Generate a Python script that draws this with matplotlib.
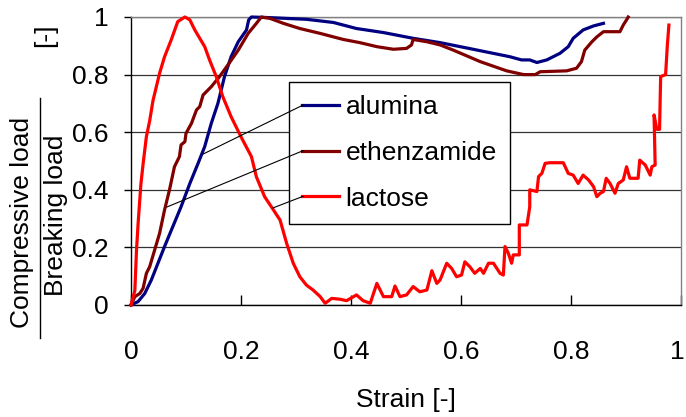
import numpy as np
import matplotlib
matplotlib.use('Agg')
import matplotlib.pyplot as plt
import matplotlib.transforms as mtransforms
from matplotlib.lines import Line2D

plt.rcParams['font.family'] = ['Liberation Sans', 'DejaVu Sans']

# ── 데이터 ─────────────────────────────────────────
alumina_x = [0, 0.013, 0.025, 0.037, 0.049, 0.061, 0.076, 0.091, 0.107, 0.122,
             0.134, 0.146, 0.158, 0.17, 0.182, 0.195, 0.21, 0.214, 0.219, 0.25,
             0.319, 0.368, 0.41, 0.459, 0.513, 0.562, 0.622, 0.689, 0.71, 0.725,
             0.738, 0.756, 0.78, 0.795, 0.804, 0.822, 0.841, 0.859]
alumina_y = [0, 0.012, 0.04, 0.087, 0.145, 0.203, 0.272, 0.341, 0.422, 0.492,
             0.55, 0.631, 0.7, 0.793, 0.862, 0.914, 0.955, 0.99, 1.0, 0.998,
             0.992, 0.981, 0.96, 0.946, 0.926, 0.911, 0.888, 0.862, 0.851, 0.851,
             0.842, 0.851, 0.874, 0.897, 0.926, 0.955, 0.969, 0.978]

ethen_x = [0, 0.007, 0.016, 0.022, 0.028, 0.034, 0.043, 0.052, 0.061, 0.07,
           0.079, 0.088, 0.091, 0.098, 0.1, 0.11, 0.119, 0.125, 0.131, 0.146,
           0.161, 0.176, 0.195, 0.213, 0.228, 0.237, 0.253, 0.277, 0.307, 0.344,
           0.386, 0.416, 0.447, 0.477, 0.501, 0.51, 0.513, 0.538, 0.562, 0.586,
           0.635, 0.683, 0.714, 0.735, 0.744, 0.792, 0.81, 0.819, 0.825, 0.838,
           0.847, 0.859, 0.889, 0.895, 0.901, 0.904]
ethen_y = [0, 0.029, 0.04, 0.058, 0.11, 0.133, 0.191, 0.249, 0.33, 0.4,
           0.48, 0.515, 0.556, 0.567, 0.596, 0.631, 0.677, 0.689, 0.729, 0.758,
           0.793, 0.833, 0.885, 0.943, 0.978, 1.0, 0.995, 0.978, 0.96, 0.943,
           0.922, 0.911, 0.897, 0.888, 0.891, 0.903, 0.922, 0.914, 0.903, 0.885,
           0.845, 0.813, 0.8, 0.8, 0.81, 0.813, 0.822, 0.845, 0.885, 0.914,
           0.931, 0.949, 0.949, 0.972, 0.99, 1.0]

lactose_x = [0, 0.007, 0.01, 0.013, 0.018, 0.022, 0.028, 0.034, 0.04, 0.052,
             0.061, 0.073, 0.085, 0.098, 0.107, 0.116, 0.134, 0.143, 0.155, 0.167,
             0.182, 0.2, 0.219, 0.228, 0.243, 0.259, 0.271, 0.283, 0.295, 0.307,
             0.319, 0.331, 0.344, 0.353, 0.365, 0.38, 0.392, 0.41, 0.422, 0.435,
             0.447, 0.459, 0.474, 0.48, 0.489, 0.501, 0.513, 0.525, 0.538, 0.547,
             0.556, 0.562, 0.574, 0.583, 0.592, 0.601, 0.607, 0.616, 0.625, 0.635,
             0.641, 0.65, 0.659, 0.671, 0.677, 0.68, 0.686, 0.692, 0.695, 0.706,
             0.706, 0.72, 0.725, 0.725, 0.738, 0.741, 0.747, 0.753, 0.762, 0.786,
             0.795, 0.804, 0.813, 0.822, 0.832, 0.841, 0.847, 0.853, 0.859, 0.864,
             0.871, 0.88, 0.886, 0.895, 0.901, 0.907, 0.922, 0.925, 0.935, 0.944,
             0.947, 0.953, 0.951, 0.956, 0.961, 0.963, 0.972, 0.975, 0.978]
lactose_y = [0, 0.05, 0.19, 0.285, 0.42, 0.49, 0.585, 0.64, 0.71, 0.805,
             0.862, 0.92, 0.984, 1.0, 0.99, 0.955, 0.897, 0.85, 0.793, 0.723,
             0.654, 0.584, 0.515, 0.445, 0.376, 0.33, 0.295, 0.214, 0.145, 0.098,
             0.069, 0.052, 0.029, 0.006, 0.023, 0.02, 0.015, 0.035, 0.015, 0.006,
             0.075, 0.029, 0.029, 0.066, 0.029, 0.035, 0.064, 0.046, 0.052, 0.119,
             0.075, 0.087, 0.145, 0.127, 0.098, 0.104, 0.15, 0.133, 0.11, 0.127,
             0.11, 0.145, 0.145, 0.11, 0.104, 0.203, 0.18, 0.145, 0.174, 0.174,
             0.278, 0.278, 0.341, 0.4, 0.394, 0.446, 0.457, 0.492, 0.494, 0.494,
             0.457, 0.451, 0.422, 0.451, 0.434, 0.411, 0.376, 0.388, 0.394, 0.44,
             0.422, 0.388, 0.422, 0.434, 0.48, 0.44, 0.44, 0.503, 0.486, 0.451,
             0.48, 0.486, 0.66, 0.61, 0.61, 0.793, 0.8, 0.897, 0.972]

names  = ["alumina", "ethenzamide", "lactose"]
colors = ["#000080", "#800000", "#FF0000"]
# 범례 연결선이 닿는 곡선 위의 점
anchors = [(0.131, 0.524), (0.065, 0.34), (0.258, 0.337)]

ticks = [0, 0.2, 0.4, 0.6, 0.8, 1]
tick_labels = ["0", "0.2", "0.4", "0.6", "0.8", "1"]

# ── 그리기 ────────────────────────────────────────────────
FS = 19
fig = plt.figure(figsize=(6.86, 4.17), dpi=100)
ax = fig.add_axes([131/686, 1 - 305/417, 550/686, 288/417])

series = [(alumina_x, alumina_y), (ethen_x, ethen_y), (lactose_x, lactose_y)]
for (xs, ys), name, col in zip(series, names, colors):
    ax.plot(xs, ys, color=col, lw=2.3, label=name, clip_on=False, zorder=3)

ax.set_xlim(0, 1)
ax.set_ylim(0, 1)
ax.set_xticks(ticks)
ax.set_xticklabels(tick_labels, fontsize=FS)
ax.set_yticks(ticks)
ax.set_yticklabels(tick_labels, fontsize=FS)
ax.tick_params(axis='x', direction='in', length=7, width=1, pad=25)
ax.tick_params(axis='y', direction='out', length=5, width=1, pad=11)
ax.yaxis.grid(True, color='#333333', lw=0.9)
ax.set_axisbelow(True)
for s in ['left', 'bottom']:
    ax.spines[s].set_color('black')
    ax.spines[s].set_linewidth(1)
for s in ['top', 'right']:
    ax.spines[s].set_color('#808080')
    ax.spines[s].set_linewidth(1)

# 오른쪽 끝 "1" 라벨이 잘리지 않도록 살짝 왼쪽으로
last = ax.get_xticklabels()[-1]
last.set_transform(last.get_transform() +
                   mtransforms.ScaledTranslation(-3/72, 0, fig.dpi_scale_trans))

ax.set_xlabel("Strain [-]", fontsize=FS)
ax.xaxis.set_label_coords(0.5, -0.288)

# 분수 형태의 y축 라벨
fig.text(22/686, 1 - 222/417, "Compressive load", rotation=90,
         fontsize=FS, ha='center', va='center')
fig.text(56/686, 1 - 215/417, "Breaking load", rotation=90,
         fontsize=FS, ha='center', va='center')
fig.add_artist(Line2D([40/686, 40/686], [1 - 98/417, 1 - 338/417],
                      color='black', lw=1))
fig.text(45/686, 1 - 35/417, "[-]", rotation=90,
         fontsize=FS, ha='center', va='center')

leg = ax.legend(loc='upper left', bbox_to_anchor=(0.287, 0.774),
                borderaxespad=0, fontsize=FS, frameon=True, fancybox=False,
                edgecolor='black', framealpha=1, handlelength=1.4,
                handletextpad=0.25, labelspacing=0.82, borderpad=0.5)
leg.get_frame().set_linewidth(1)

# 범례 → 곡선 연결선
fig.canvas.draw()
renderer = fig.canvas.get_renderer()
inv = ax.transData.inverted()
for hl, (axx, ayy) in zip(leg.get_lines(), anchors):
    bb = hl.get_window_extent(renderer)
    sx, sy = inv.transform((bb.x0 + 1, (bb.y0 + bb.y1) / 2))
    ax.plot([axx, sx], [ayy, sy], color='black', lw=0.8,
            zorder=6, clip_on=False)

fig.savefig("out.png", dpi=100)
